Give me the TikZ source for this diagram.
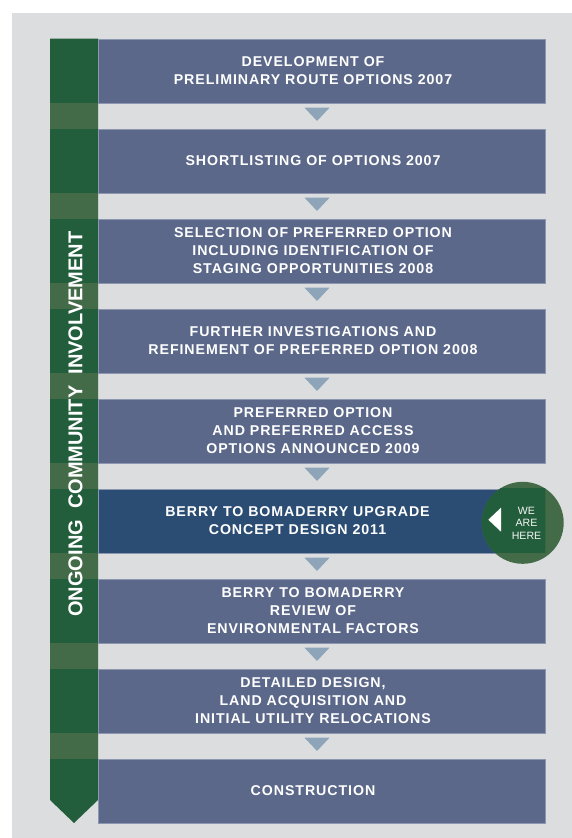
\documentclass[tikz,border=0pt]{standalone}
\usepackage{fontspec}
\setmainfont{Liberation Sans}
\newfontfamily\bxfont[LetterSpace=6.5]{Liberation Sans}
\usetikzlibrary{calc}
\definecolor{bgc}{HTML}{DCDDDF}
\definecolor{boxc}{HTML}{5B6889}
\definecolor{hic}{HTML}{2C4D73}
\definecolor{dkg}{HTML}{225E3C}
\definecolor{ltg}{HTML}{436B48}
\definecolor{arc}{HTML}{8EA5B9}
\definecolor{edgec}{HTML}{8D96B0}
\begin{document}
\begin{tikzpicture}[x=1pt,y=-1pt,
  stepbox/.style={rectangle, fill=boxc, draw=edgec, line width=0.5pt,
    minimum width=447.3pt, minimum height=64pt, inner sep=0pt, anchor=north west},
  boxtext/.style={text=white, font=\fontsize{14.2}{18.3}\selectfont\bxfont\bfseries,
    align=center, inner sep=0pt},
  downtri/.style={fill=arc}]
\useasboundingbox (0,0) rectangle (572,838);
\fill[bgc] (12,13) rectangle (572,838);
% green bar
\fill[dkg] (50,38.7) -- (98,38.7) -- (98,800) -- (74,823) -- (50,800) -- cycle;
\foreach \i in {0,...,7} \fill[ltg] (50,{102.7+90*\i}) rectangle (98,{128.7+90*\i});
% boxes
\foreach \i in {1,2,3,4,5,7,8,9} \node[stepbox] (b\i) at (98,{38.7+90*(\i-1)}) {};
\node[stepbox, fill=hic] (b6) at (98,488.7) {};
% arrows
\foreach \i in {1,...,8} \fill[downtri] (304.5,{17.7+90*\i}) -- (329.5,{17.7+90*\i}) -- (317,{31+90*\i}) -- cycle;
% texts
\node[boxtext] (t1) at (313,70.7) {DEVELOPMENT OF\\PRELIMINARY ROUTE OPTIONS 2007};
\node[boxtext] (t2) at (313,160.7) {SHORTLISTING OF OPTIONS 2007};
\node[boxtext] (t3) at (313,250.7) {SELECTION OF PREFERRED OPTION\\INCLUDING IDENTIFICATION OF\\STAGING OPPORTUNITIES 2008};
\node[boxtext] (t4) at (313,340.7) {FURTHER INVESTIGATIONS AND\\REFINEMENT OF PREFERRED OPTION 2008};
\node[boxtext] (t5) at (313,430.7) {PREFERRED OPTION\\AND PREFERRED ACCESS\\OPTIONS ANNOUNCED 2009};
\node[boxtext] (t6) at (297.5,520.7) {BERRY TO BOMADERRY UPGRADE\\CONCEPT DESIGN 2011};
\node[boxtext] (t7) at (313,610.7) {BERRY TO BOMADERRY\\REVIEW OF\\ENVIRONMENTAL FACTORS};
\node[boxtext] (t8) at (313,700.7) {DETAILED DESIGN,\\LAND ACQUISITION AND\\INITIAL UTILITY RELOCATIONS};
\node[boxtext] (t9) at (313,790.7) {CONSTRUCTION};
% we are here
\fill[ltg] (522.7,522.8) circle (41pt);
\begin{scope}
  \clip (98,488.7) rectangle (545.3,552.7);
  \fill[dkg] (522.7,522.8) circle (41pt);
\end{scope}
\fill[white] (488.3,519.7) -- (501,507.7) -- (501,531.7) -- cycle;
\node[text=white!92!gray, font=\fontsize{10.6}{12.8}\selectfont, align=center, inner sep=0pt] (here) at (526.5,523.3) {WE\\ARE\\HERE};
% vertical label
\node[rotate=90, anchor=base, text=white, inner sep=0pt, font=\fontsize{20}{24}\selectfont\bfseries] (vt) at (82.3,424) {ONGOING\ \ COMMUNITY\ \ INVOLVEMENT};
\end{tikzpicture}
\end{document}
